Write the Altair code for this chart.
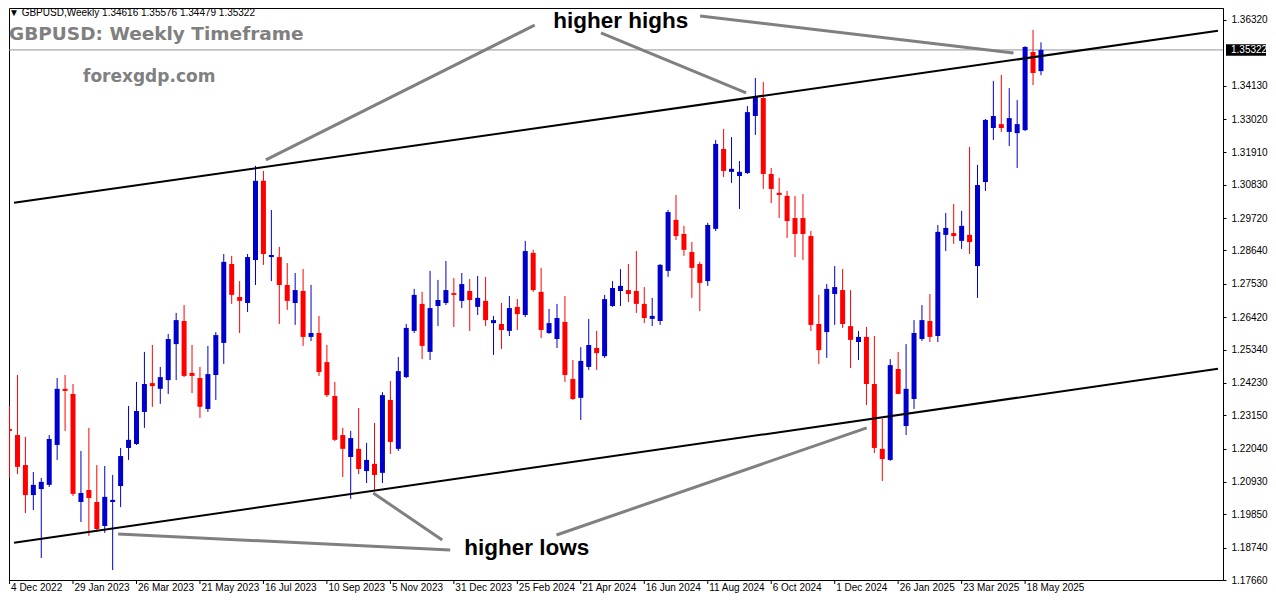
import altair as alt
import pandas as pd
import numpy as np

# ---------------- data ----------------
week_index = list(range(131))  # weekly bars, first bar = week of 4 Dec 2022
open_ = [1.2269,1.2249,1.2149,1.2049,1.2069,1.2083,1.2216,1.2403,1.2386,1.2026,
         1.2066,1.2026,1.1946,1.2026,1.2079,1.2206,1.2219,1.2326,1.2422,1.2403,
         1.2432,1.2552,1.2629,1.2456,1.2439,1.2336,1.2449,1.2556,1.2819,1.2709,
         1.2689,1.2832,1.3096,1.2842,1.2842,1.2749,1.2689,1.2729,1.2576,1.2589,
         1.2492,1.2379,1.2249,1.2176,1.2203,1.2129,1.2153,1.2123,1.2366,1.2203,
         1.2442,1.2596,1.2686,1.2526,1.2679,1.2689,1.2722,1.2696,1.2729,1.2676,
         1.2696,1.2622,1.2619,1.2596,1.2676,1.2649,1.2856,1.2726,1.2589,1.2569,
         1.2626,1.2436,1.2373,1.2476,1.2539,1.2512,1.2679,1.2729,1.2732,1.2729,
         1.2686,1.2636,1.2629,1.2796,1.2966,1.2919,1.2859,1.2819,1.2762,1.2936,
         1.3202,1.3126,1.3112,1.3122,1.3312,1.3372,1.3119,1.3056,1.3046,1.2972,
         1.2972,1.2912,1.2619,1.2592,1.2719,1.2732,1.2612,1.2559,1.2576,1.2419,
         1.2203,1.2166,1.2469,1.2279,1.2369,1.2569,1.2629,1.2579,1.2916,1.2922,
         1.2896,1.2916,1.2812,1.3092,1.3272,1.3285,1.3259,1.3255,1.3265,1.3525,
         1.34616]
high = [1.2346,1.2449,1.2243,1.2126,1.2106,1.2249,1.2439,1.2449,1.2419,1.2196,
        1.2273,1.2149,1.2146,1.2116,1.2206,1.2346,1.2426,1.2526,1.2549,1.2476,
        1.2586,1.2656,1.2682,1.2549,1.2476,1.2546,1.2592,1.2852,1.2846,1.2762,
        1.2852,1.3146,1.3129,1.2999,1.2876,1.2822,1.2789,1.2802,1.2749,1.2646,
        1.2549,1.2426,1.2273,1.2263,1.2339,1.2223,1.2289,1.2392,1.2429,1.2509,
        1.2619,1.2736,1.2726,1.2796,1.2766,1.2829,1.2772,1.2789,1.2769,1.2779,
        1.2776,1.2646,1.2689,1.2712,1.2702,1.2896,1.2866,1.2806,1.2669,1.2686,
        1.2712,1.2499,1.2542,1.2636,1.2596,1.2716,1.2762,1.2802,1.2819,1.2862,
        1.2742,1.2706,1.2819,1.2999,1.3049,1.2946,1.2892,1.2826,1.2956,1.3232,
        1.3269,1.3242,1.3162,1.3345,1.3439,1.3425,1.3139,1.3106,1.3062,1.3046,
        1.3052,1.2929,1.2716,1.2752,1.2812,1.2802,1.2732,1.2596,1.2609,1.2579,
        1.2303,1.2502,1.2526,1.2552,1.2632,1.2682,1.2719,1.2949,1.2989,1.3019,
        1.2996,1.3209,1.3149,1.3302,1.3429,1.3449,1.3405,1.3365,1.3545,1.3599,
        1.35576]
low = [1.2106,1.2119,1.1989,1.1999,1.1839,1.2076,1.2166,1.2263,1.2046,1.1959,
       1.1913,1.1926,1.1923,1.1799,1.2009,1.2166,1.2216,1.2273,1.2343,1.2353,
       1.2386,1.2432,1.2442,1.2389,1.2306,1.2326,1.2366,1.2486,1.2686,1.2589,
       1.2659,1.2749,1.2816,1.2762,1.2619,1.2666,1.2616,1.2546,1.2562,1.2446,
       1.2376,1.2229,1.2109,1.2036,1.2119,1.2089,1.2066,1.2089,1.2186,1.2196,
       1.2439,1.2589,1.2502,1.2499,1.2612,1.2682,1.2609,1.2672,1.2596,1.2649,
       1.2612,1.2516,1.2536,1.2579,1.2599,1.2642,1.2726,1.2572,1.2586,1.2539,
       1.2426,1.2366,1.2299,1.2466,1.2466,1.2506,1.2676,1.2679,1.2692,1.2656,
       1.2622,1.2612,1.2616,1.2776,1.2899,1.2846,1.2706,1.2662,1.2746,1.2929,
       1.3109,1.3089,1.3002,1.3119,1.3249,1.3069,1.3022,1.2972,1.2906,1.2842,
       1.2832,1.2596,1.2486,1.2506,1.2616,1.2606,1.2472,1.2499,1.2349,1.2189,
       1.2096,1.2163,1.2385,1.2249,1.2336,1.2562,1.2559,1.2559,1.2862,1.2886,
       1.2869,1.2852,1.2706,1.3062,1.3232,1.3259,1.3212,1.3139,1.3262,1.3415,
       1.34479]
close = [1.2263,1.2143,1.2049,1.2083,1.2093,1.2236,1.2403,1.2396,1.2053,1.2056,
         1.2039,1.1936,1.2043,1.2033,1.2179,1.2233,1.2329,1.2419,1.2412,1.2442,
         1.2569,1.2632,1.2446,1.2446,1.2343,1.2452,1.2582,1.2826,1.2716,1.2696,
         1.2842,1.3096,1.2852,1.2849,1.2749,1.2696,1.2732,1.2576,1.2589,1.2459,
         1.2382,1.2233,1.2203,1.2239,1.2136,1.2166,1.2116,1.2382,1.2226,1.2462,
         1.2606,1.2716,1.2546,1.2672,1.2699,1.2732,1.2716,1.2752,1.2699,1.2706,
         1.2632,1.2632,1.2599,1.2672,1.2652,1.2862,1.2732,1.2599,1.2622,1.2639,
         1.2449,1.2369,1.2496,1.2549,1.2522,1.2702,1.2739,1.2746,1.2719,1.2686,
         1.2639,1.2646,1.2816,1.2992,1.2912,1.2866,1.2806,1.2756,1.2949,1.3219,
         1.3129,1.3136,1.3126,1.3325,1.3375,1.3119,1.3069,1.3049,1.2962,1.2919,
         1.2919,1.2616,1.2532,1.2736,1.2742,1.2619,1.2566,1.2576,1.2419,1.2206,
         1.2169,1.2482,1.2386,1.2403,1.2589,1.2632,1.2576,1.2926,1.2939,1.2912,
         1.2946,1.2892,1.3082,1.3299,1.3312,1.3272,1.3305,1.3285,1.3542,1.3455,
         1.35322]

date_tick_index = [0, 8, 16, 24, 32, 40, 48, 56, 64, 72, 80, 88, 96, 104, 112, 120, 128]
date_tick_labels = ["4 Dec 2022", "29 Jan 2023", "26 Mar 2023", "21 May 2023", "16 Jul 2023",
                    "10 Sep 2023", "5 Nov 2023", "31 Dec 2023", "25 Feb 2024", "21 Apr 2024",
                    "16 Jun 2024", "11 Aug 2024", "6 Oct 2024", "1 Dec 2024", "26 Jan 2025",
                    "23 Mar 2025", "18 May 2025"]
price_ticks = [1.36320, 1.34130, 1.33020, 1.31910, 1.30830, 1.29720, 1.28640, 1.27530,
               1.26420, 1.25340, 1.24230, 1.23150, 1.22040, 1.20930, 1.19850, 1.18740, 1.17660]
current_price = [1.35322]

# channel lines (index, price)
channel_i1 = [0.625, 0.625]
channel_p1 = [1.3023, 1.1890]
channel_i2 = [152.375, 152.375]
channel_p2 = [1.3596, 1.2470]

# grey pointer lines (index, price)
pointer_i1 = [66.25, 74.6, 87.1, 55.6, 54.6, 69.0]
pointer_p1 = [1.3615, 1.3589, 1.3645, 1.1866, 1.1899, 1.1916]
pointer_i2 = [32.375, 92.9, 126.6, 13.75, 45.9, 108.1]
pointer_p2 = [1.3166, 1.3389, 1.3522, 1.1919, 1.2056, 1.2273]

note_text = ["higher highs", "higher lows"]
note_i = [77.1, 65.25]
note_p = [1.3629, 1.1873]

# ---------------- tables ----------------
df = pd.DataFrame({"i": week_index, "open": open_, "high": high, "low": low, "close": close})
df["dir"] = np.where(df["close"] >= df["open"], "up", "down")
ticks_df = pd.DataFrame({"i": date_tick_index, "label": date_tick_labels})
chan_df = pd.DataFrame({"i1": channel_i1, "p1": channel_p1, "i2": channel_i2, "p2": channel_p2})
ptr_df = pd.DataFrame({"i1": pointer_i1, "p1": pointer_p1, "i2": pointer_i2, "p2": pointer_p2})
note_df = pd.DataFrame({"t": note_text, "i": note_i, "p": note_p})
price_df = pd.DataFrame({"price": current_price})

W, H = 1214, 572
x_scale = alt.Scale(domain=[0.625, 152.375], clamp=True, nice=False, zero=False)
y_scale = alt.Scale(domain=[1.17660, 1.36719], nice=False, zero=False)
y_axis = alt.Axis(orient="right", values=price_ticks, format=".5f", grid=False, title=None,
                  labelFont="Liberation Sans", labelFontSize=10, labelColor="black",
                  tickColor="black", tickSize=3, labelPadding=5, domainColor="black",
                  labelFlush=False, labelOverlap=False)


def X(f):
    return alt.X(f, type="quantitative", scale=x_scale, axis=None)


def Y(f):
    return alt.Y(f, type="quantitative", scale=y_scale, axis=y_axis)


color = alt.Color("dir:N", scale=alt.Scale(domain=["up", "down"], range=["#0000CC", "#FF0000"]), legend=None)

price_line = alt.Chart(price_df).mark_rule(color="#8c959e", strokeWidth=1).encode(y=Y("price"))

wicks = alt.Chart(df).mark_rule(strokeWidth=1, xOffset=0.5, clip=True).encode(
    x=X("i"), y=Y("low"), y2="high:Q", color=color)
bodies = alt.Chart(df).mark_bar(size=5, xOffset=0.5, clip=True).encode(
    x=X("i"), y=Y("open"), y2="close:Q", color=color)

channels = alt.Chart(chan_df).mark_rule(color="black", strokeWidth=2, clip=True).encode(
    x=X("i1"), x2="i2:Q", y=Y("p1"), y2="p2:Q")
pointers = alt.Chart(ptr_df).mark_rule(color="#808080", strokeWidth=3, clip=True).encode(
    x=X("i1"), x2="i2:Q", y=Y("p1"), y2="p2:Q")

notes = alt.Chart(note_df).mark_text(font="Liberation Sans", fontWeight="bold", fontSize=22.5,
                                     color="black", align="center", baseline="middle").encode(
    x=X("i"), y=Y("p"), text="t:N")

tag_box = alt.Chart(price_df).transform_calculate(
    top="datum.price + 0.0019", bot="datum.price - 0.0019").mark_rect(color="black").encode(
    x=alt.value(W + 3), x2=alt.value(W + 43), y=Y("top"), y2="bot:Q")
tag_text = alt.Chart(price_df).transform_calculate(lbl="format(datum.price, '.5f')").mark_text(
    font="Liberation Sans", fontSize=10, color="white", align="left", baseline="middle").encode(
    x=alt.value(W + 8), y=Y("price"), text="lbl:N")

x_tick_marks = alt.Chart(ticks_df).mark_rule(color="black", strokeWidth=1, xOffset=0.5).encode(
    x=X("i"), y=alt.value(H), y2=alt.value(H + 4))
x_tick_labels = alt.Chart(ticks_df).mark_text(
    font="Liberation Sans", fontSize=10, color="black", align="left", baseline="top",
    dx=2).encode(x=X("i"), y=alt.value(H + 3), text="label:N")

header = alt.Chart(pd.DataFrame({"t": ["\u25bc GBPUSD,Weekly  1.34616 1.35576 1.34479 1.35322"]})).mark_text(
    font="Liberation Sans", fontSize=10, color="black", align="left", baseline="middle").encode(
    x=alt.value(0), y=alt.value(5), text="t:N")
title_txt = alt.Chart(pd.DataFrame({"t": ["GBPUSD: Weekly Timeframe"]})).mark_text(
    font="DejaVu Sans", fontSize=18.5, fontWeight="bold", color="#808080", align="left",
    baseline="middle").encode(x=alt.value(0), y=alt.value(26), text="t:N")
site_txt = alt.Chart(pd.DataFrame({"t": ["forexgdp.com"]})).mark_text(
    font="DejaVu Sans", fontSize=17, fontWeight="bold", color="#808080", align="left",
    baseline="middle").encode(x=alt.value(74), y=alt.value(69), text="t:N")

chart = alt.layer(
    price_line, wicks, bodies, channels, pointers, notes, tag_box, tag_text,
    x_tick_marks, x_tick_labels, header, title_txt, site_txt
).properties(width=W, height=H, padding=0, background="white").configure_view(
    stroke="black", strokeWidth=1)

chart.save("out.html", embed_options={"renderer": "svg", "actions": False})
